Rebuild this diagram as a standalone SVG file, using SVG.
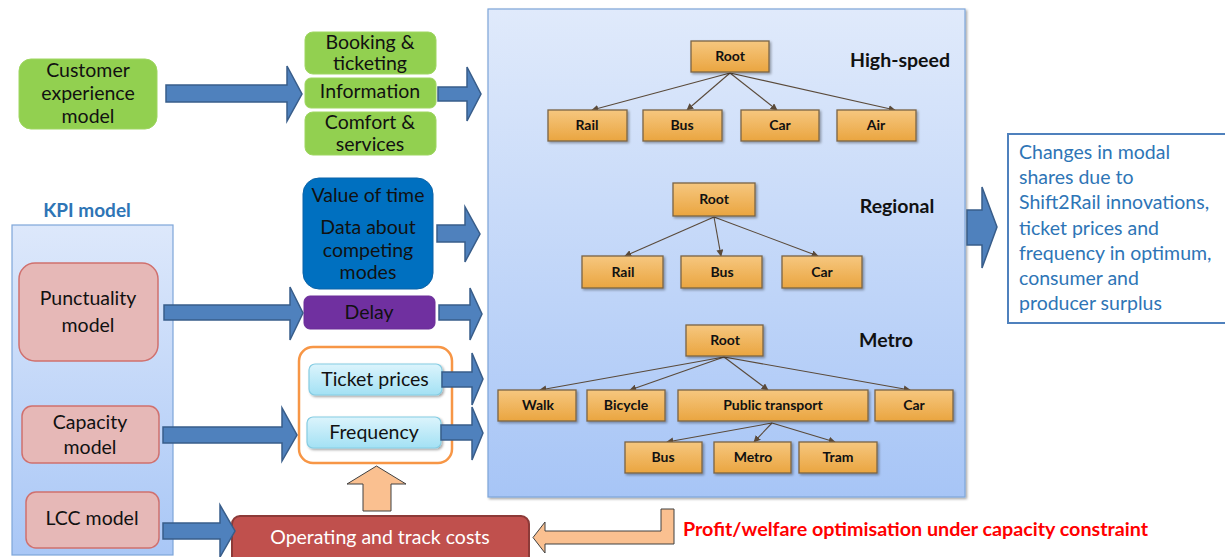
<svg xmlns="http://www.w3.org/2000/svg" width="1225" height="557" viewBox="0 0 1225 557">
<defs>
<linearGradient id="gPanel" x1="0" y1="0" x2="0" y2="1"><stop offset="0" stop-color="#e0eafb"/><stop offset="1" stop-color="#a7c5f6"/></linearGradient>
<linearGradient id="gKpi" x1="0" y1="0" x2="0" y2="1"><stop offset="0" stop-color="#dde8fb"/><stop offset="1" stop-color="#a9c7f6"/></linearGradient>
<linearGradient id="gNode" x1="0" y1="0" x2="0" y2="1"><stop offset="0" stop-color="#f6c77f"/><stop offset="1" stop-color="#eaa540"/></linearGradient>
<linearGradient id="gCyan" x1="0" y1="0" x2="0" y2="1"><stop offset="0" stop-color="#dcf4fc"/><stop offset="1" stop-color="#a3e1f4"/></linearGradient>
<filter id="sh" x="-10%" y="-10%" width="130%" height="140%"><feDropShadow dx="1.5" dy="1.5" stdDeviation="1" flood-color="#000" flood-opacity="0.35"/></filter>
<marker id="ah" viewBox="0 0 10 10" refX="9" refY="5" markerWidth="7" markerHeight="7" markerUnits="userSpaceOnUse" orient="auto"><path d="M0,0 L10,5 L0,10 z" fill="#5a4a3a"/></marker>
</defs>
<style>
text{font-family:Lato,"Open Sans","Liberation Sans",sans-serif;}
.t{font-size:19.5px;fill:#111;text-anchor:middle;}
.green{fill:#92D050;stroke:#9ed660;stroke-width:1;}
.pink{fill:#E6B8B7;stroke:#d0706e;stroke-width:1.5;}
.cyan{fill:url(#gCyan);stroke:#86cde3;stroke-width:1.2;}
.node{fill:url(#gNode);stroke:#7a6446;stroke-width:1.3;filter:url(#sh);}
.nt{font-size:14px;font-weight:bold;fill:#111;text-anchor:middle;}
.lbl{font-size:19.5px;font-weight:bold;fill:#111;}
.barrow{fill:#4F81BD;stroke:#385D8A;stroke-width:1.5;}
.oarrow{fill:#FAC090;stroke:#404040;stroke-width:1;}
.edge{stroke:#5a4a3a;stroke-width:1.1;fill:none;marker-end:url(#ah);}
</style>
<rect width="1225" height="557" fill="#fff"/>

<g id="panel">
<rect x="488" y="9" width="477" height="488" fill="url(#gPanel)" stroke="#7ea6d9" stroke-width="1.2" filter="url(#sh)"/>
</g>
<g id="kpi">
<rect x="12" y="225" width="161" height="330" fill="url(#gKpi)" stroke="#7ea6d9" stroke-width="1.2"/>
<text x="87" y="217" font-size="19" font-weight="bold" fill="#2E75B6" text-anchor="middle">KPI model</text>
</g>

<g id="customer"><rect class="green" x="19" y="59" width="138" height="70" rx="12"/>
<text class="t" x="88" y="77">Customer</text><text class="t" x="88" y="100">experience</text><text class="t" x="88" y="123">model</text></g>
<g id="booking"><rect class="green" x="305" y="32" width="131" height="42" rx="8"/>
<text class="t" x="370" y="49">Booking &amp;</text><text class="t" x="370" y="70">ticketing</text></g>
<g id="information"><rect class="green" x="305" y="78" width="131" height="30" rx="6"/>
<text class="t" x="370" y="98">Information</text></g>
<g id="comfort"><rect class="green" x="305" y="112" width="131" height="43" rx="8"/>
<text class="t" x="370" y="129">Comfort &amp;</text><text class="t" x="370" y="151">services</text></g>

<g id="valueoftime"><rect x="303" y="178" width="130" height="111" rx="16" fill="#0070C0" stroke="#0a63a8" stroke-width="1"/>
<text class="t" x="368" y="202">Value of time</text><text class="t" x="368" y="234">Data about</text><text class="t" x="368" y="257">competing</text><text class="t" x="368" y="279">modes</text></g>
<g id="delay"><rect x="304" y="296" width="131" height="33" rx="6" fill="#7030A0" stroke="#6a2d98" stroke-width="1"/>
<text class="t" x="369" y="319">Delay</text></g>

<g id="pricebox"><rect x="299" y="347" width="153" height="116" rx="14" fill="#fff" stroke="#F79646" stroke-width="2.5"/></g>
<g id="ticketprices"><rect class="cyan" x="309" y="364" width="133" height="31" rx="6" filter="url(#sh)"/>
<text class="t" x="375" y="386">Ticket prices</text></g>
<g id="frequency"><rect class="cyan" x="307" y="417" width="134" height="31" rx="6" filter="url(#sh)"/>
<text class="t" x="374" y="439">Frequency</text></g>

<g id="punctuality"><rect class="pink" x="19" y="263" width="139" height="98" rx="16"/>
<text class="t" x="88" y="305">Punctuality</text><text class="t" x="88" y="332">model</text></g>
<g id="capacity"><rect class="pink" x="22" y="406" width="137" height="57" rx="10"/>
<text class="t" x="90" y="429">Capacity</text><text class="t" x="90" y="454">model</text></g>
<g id="lcc"><rect class="pink" x="26" y="492" width="133" height="56" rx="10"/>
<text class="t" x="92" y="525">LCC model</text></g>

<g id="costs"><rect x="232" y="516" width="297" height="56" rx="8" fill="#C0504D" stroke="#8C3A38" stroke-width="2"/>
<text x="380" y="544" font-size="19.5" fill="#fff" text-anchor="middle">Operating and track costs</text></g>

<g id="result"><rect x="1008" y="134" width="240" height="189" fill="#fff" stroke="#4F81BD" stroke-width="2"/>
<g font-size="19.5" fill="#2E75B6">
<text x="1019" y="159">Changes in modal</text>
<text x="1019" y="184">shares due to</text>
<text x="1019" y="209">Shift2Rail innovations,</text>
<text x="1019" y="235">ticket prices and</text>
<text x="1019" y="260">frequency in optimum,</text>
<text x="1019" y="285">consumer and</text>
<text x="1019" y="310">producer surplus</text>
</g></g>

<text x="683" y="536" font-size="19" font-weight="bold" fill="#FF0000" textLength="465" lengthAdjust="spacingAndGlyphs">Profit/welfare optimisation under capacity constraint</text>

<g id="labels">
<text class="lbl" x="900" y="67" text-anchor="middle">High-speed</text>
<text class="lbl" x="897" y="213" text-anchor="middle">Regional</text>
<text class="lbl" x="886" y="347" text-anchor="middle">Metro</text>
</g>

<g id="connectors">
<polygon class="barrow" points="166,85 287,85 287,66 302,94 287,121 287,102 166,102"/>
<polygon class="barrow" points="438,87 467,87 467,67 481,94 467,121 467,101 438,101"/>
<polygon class="barrow" points="437,225 465,225 465,207 480,234 465,262 465,242 437,242"/>
<polygon class="barrow" points="164,305 290,305 290,287 303,313 290,340 290,320 164,320"/>
<polygon class="barrow" points="439,305 470,305 470,288 482,314 470,340 470,320 439,320"/>
<polygon class="barrow" points="163,427 282,427 282,408 297,435 282,461 282,443 163,443"/>
<polygon class="barrow" points="442,372 472,372 472,353 483,379 472,405 472,387 442,387"/>
<polygon class="barrow" points="441,425 472,425 472,407 483,433 472,460 472,440 441,440"/>
<polygon class="barrow" points="163,523 220,523 220,505 235,531 220,557 220,539 163,539"/>
<polygon class="barrow" points="967,210 982,210 982,187 997,227 982,268 982,245 967,245"/>
<polygon class="oarrow" points="363,511 363,484 347,484 376.5,466 406,484 391,484 391,511"/>
<polygon class="oarrow" points="674,509 674,544 545,544 545,553 533,537.5 545,522 545,531 661,531 661,509"/>
<line class="edge" x1="730" y1="73" x2="592" y2="110"/>
<line class="edge" x1="730" y1="73" x2="687" y2="110"/>
<line class="edge" x1="730" y1="73" x2="777" y2="110"/>
<line class="edge" x1="730" y1="73" x2="895" y2="110"/>
<line class="edge" x1="714" y1="217" x2="625" y2="256"/>
<line class="edge" x1="714" y1="217" x2="721" y2="256"/>
<line class="edge" x1="714" y1="217" x2="818" y2="256"/>
<line class="edge" x1="724" y1="357" x2="540" y2="390"/>
<line class="edge" x1="724" y1="357" x2="630" y2="390"/>
<line class="edge" x1="724" y1="357" x2="768" y2="390"/>
<line class="edge" x1="724" y1="357" x2="910" y2="390"/>
<line class="edge" x1="772" y1="423" x2="667" y2="442"/>
<line class="edge" x1="772" y1="423" x2="754" y2="442"/>
<line class="edge" x1="772" y1="423" x2="835" y2="442"/>
</g>

<g id="hs-root"><rect class="node" x="691" y="41" width="78" height="31"/><text class="nt" x="730" y="61">Root</text></g>
<g id="hs-rail"><rect class="node" x="548" y="110" width="79" height="31"/><text class="nt" x="587" y="130">Rail</text></g>
<g id="hs-bus"><rect class="node" x="643" y="110" width="79" height="31"/><text class="nt" x="682" y="130">Bus</text></g>
<g id="hs-car"><rect class="node" x="741" y="110" width="78" height="31"/><text class="nt" x="780" y="130">Car</text></g>
<g id="hs-air"><rect class="node" x="837" y="110" width="79" height="31"/><text class="nt" x="876" y="130">Air</text></g>

<g id="rg-root"><rect class="node" x="673" y="183" width="82" height="33"/><text class="nt" x="714" y="204">Root</text></g>
<g id="rg-rail"><rect class="node" x="582" y="256" width="81" height="32"/><text class="nt" x="623" y="277">Rail</text></g>
<g id="rg-bus"><rect class="node" x="681" y="256" width="81" height="32"/><text class="nt" x="722" y="277">Bus</text></g>
<g id="rg-car"><rect class="node" x="782" y="256" width="80" height="32"/><text class="nt" x="822" y="277">Car</text></g>

<g id="mt-root"><rect class="node" x="686" y="325" width="77" height="31"/><text class="nt" x="725" y="345">Root</text></g>
<g id="mt-walk"><rect class="node" x="498" y="390" width="78" height="31"/><text class="nt" x="538" y="410">Walk</text></g>
<g id="mt-bicycle"><rect class="node" x="587" y="390" width="78" height="31"/><text class="nt" x="626" y="410">Bicycle</text></g>
<g id="mt-pt"><rect class="node" x="678" y="390" width="190" height="31"/><text class="nt" x="773" y="410">Public transport</text></g>
<g id="mt-car"><rect class="node" x="875" y="390" width="78" height="31"/><text class="nt" x="914" y="410">Car</text></g>
<g id="mt-bus"><rect class="node" x="625" y="442" width="77" height="31"/><text class="nt" x="663" y="462">Bus</text></g>
<g id="mt-metro"><rect class="node" x="714" y="442" width="77" height="31"/><text class="nt" x="753" y="462">Metro</text></g>
<g id="mt-tram"><rect class="node" x="799" y="442" width="78" height="31"/><text class="nt" x="838" y="462">Tram</text></g>
</svg>
